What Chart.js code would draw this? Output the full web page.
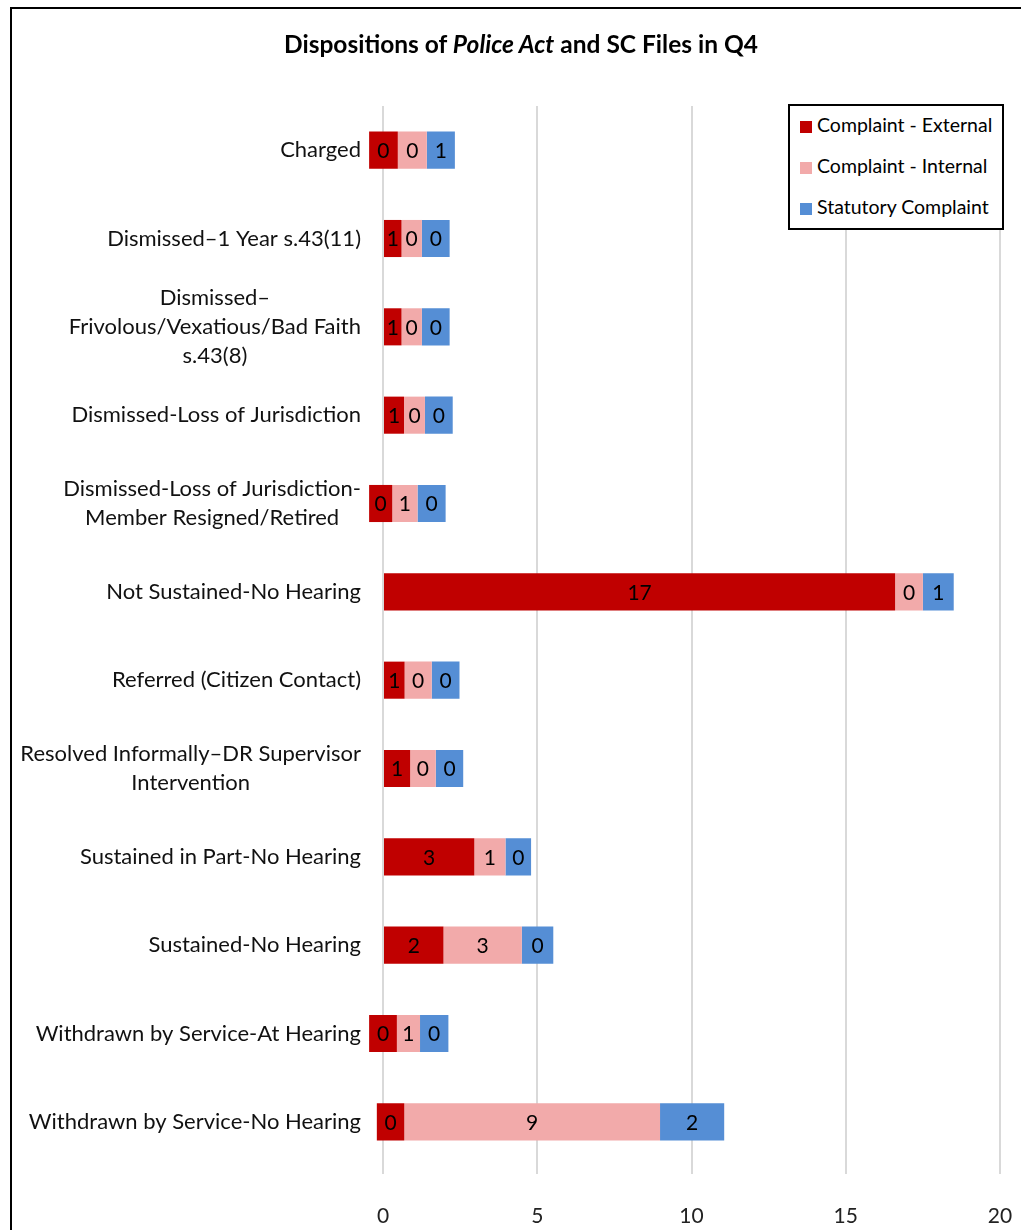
<!DOCTYPE html>
<html>
<head>
<meta charset="utf-8">
<script src="https://cdn.jsdelivr.net/npm/chart.js@4.4.0/dist/chart.umd.min.js"></script>
<style>
  html, body { margin: 0; padding: 0; background: #fff; width: 1021px; height: 1230px; overflow: hidden; }
  #frame { position: absolute; left: 10px; top: 7px; width: 1100px; height: 1300px; border-left: 2px solid #000; border-top: 2px solid #000; }
  #wrap { position: absolute; left: 0; top: 0; width: 1021px; height: 1230px; }
  #title { position: absolute; left: 0; top: 29px; width: 1042px; text-align: center; font-family: Lato, "Open Sans", sans-serif; font-weight: bold; font-size: 24.5px; color: #000; }
  #legend { position: absolute; left: 788px; top: 104px; width: 212px; height: 122px; border: 2px solid #000; background: #fff; font-family: Lato, "Open Sans", sans-serif; font-size: 19.5px; color: #000; }
  .item { position: absolute; left: 10px; height: 20px; line-height: 20px; white-space: nowrap; }
  .sw { display: inline-block; width: 12px; height: 12px; margin-right: 5px; vertical-align: -1px; }
</style>
</head>
<body>
<div id="frame"></div>
<div id="wrap"><canvas id="c" width="1021" height="1230"></canvas></div>
<div id="title">Dispositions of <i>Police Act</i> and SC Files in Q4</div>
<div id="legend"></div>
<script>
const categories = [
  "Charged",
  "Dismissed–1 Year s.43(11)",
  ["Dismissed–", "Frivolous/Vexatious/Bad Faith", "s.43(8)"],
  "Dismissed-Loss of Jurisdiction",
  ["Dismissed-Loss of Jurisdiction-", "Member Resigned/Retired"],
  "Not Sustained-No Hearing",
  "Referred (Citizen Contact)",
  ["Resolved Informally–DR Supervisor", "Intervention"],
  "Sustained in Part-No Hearing",
  "Sustained-No Hearing",
  "Withdrawn by Service-At Hearing",
  "Withdrawn by Service-No Hearing"
];
const seriesNames = ["Complaint - External", "Complaint - Internal", "Statutory Complaint"];
// drawn bar start and segment lengths (as they appear in the picture)
const barStart     = [-0.45, 0, 0, 0, -0.45, 0, 0, 0, 0, 0, -0.45, -0.2];
const externalLen  = [0.93, 0.6, 0.6, 0.68, 0.75, 16.6, 0.7, 0.88, 2.96, 1.96, 0.9, 0.89];
const internalLen  = [0.94, 0.66, 0.66, 0.68, 0.82, 0.9, 0.88, 0.83, 1.01, 2.54, 0.75, 8.29];
const statutoryLen = [0.91, 0.9, 0.9, 0.9, 0.91, 1.0, 0.9, 0.89, 0.83, 1.02, 0.92, 2.08];
// data labels shown on the segments
const externalLabels  = [0, 1, 1, 1, 0, 17, 1, 1, 3, 2, 0, 0];
const internalLabels  = [0, 0, 0, 0, 1, 0, 0, 0, 1, 3, 1, 9];
const statutoryLabels = [1, 0, 0, 0, 0, 1, 0, 0, 0, 0, 0, 2];
const xTicks = [0, 5, 10, 15, 20];

const colors = ["#C00000", "#F2AAAA", "#558ED5"];
const FONT = "Lato, 'Open Sans', sans-serif";

function ranges(starts, lens) { return starts.map((s, i) => [s, s + lens[i]]); }
const extEnd = barStart.map((s, i) => s + externalLen[i]);
const intEnd = extEnd.map((s, i) => s + internalLen[i]);
const lens = [externalLen, internalLen, statutoryLen];
const starts = [barStart, extEnd, intEnd];
const labelSets = [externalLabels, internalLabels, statutoryLabels];

const datasets = seriesNames.map((name, k) => ({
  label: name,
  data: ranges(starts[k], lens[k]),
  backgroundColor: colors[k],
  borderWidth: 0,
  grouped: false,
  clip: false,
  categoryPercentage: 1,
  barPercentage: 0.42,
  valueLabels: labelSets[k]
}));

const valueLabelPlugin = {
  id: 'valueLabels',
  afterDatasetsDraw(chart) {
    const ctx = chart.ctx;
    ctx.save();
    ctx.font = "21px " + FONT;
    ctx.fillStyle = "#000";
    ctx.textAlign = "center";
    ctx.textBaseline = "middle";
    chart.data.datasets.forEach((ds, k) => {
      const meta = chart.getDatasetMeta(k);
      meta.data.forEach((bar, i) => {
        const cx = (bar.x + bar.base) / 2;
        ctx.fillText(String(ds.valueLabels[i]), cx, bar.y + 1);
      });
    });
    ctx.restore();
  }
};

const catLabelPlugin = {
  id: 'catLabels',
  afterDraw(chart) {
    const ctx = chart.ctx;
    const ys = chart.scales.y;
    const right = 361, lh = 29;
    ctx.save();
    ctx.font = "22px " + FONT;
    ctx.fillStyle = "#111";
    ctx.textAlign = "center";
    ctx.textBaseline = "middle";
    categories.forEach((lab, i) => {
      const lines = Array.isArray(lab) ? lab : [lab];
      const maxW = Math.max(...lines.map(l => ctx.measureText(l).width));
      const cx = right - maxW / 2;
      const y0 = ys.getPixelForValue(i) - (lines.length - 1) * lh / 2;
      lines.forEach((l, j) => ctx.fillText(l, cx, y0 + j * lh));
    });
    ctx.restore();
  }
};

new Chart(document.getElementById('c'), {
  type: 'bar',
  data: { labels: categories, datasets },
  options: {
    indexAxis: 'y',
    responsive: false,
    animation: false,
    layout: { padding: { left: 0, right: 21, top: 106, bottom: 0 } },
    plugins: { legend: { display: false }, title: { display: false }, tooltip: { enabled: false } },
    scales: {
      x: {
        min: 0, max: 20,
        afterBuildTicks(scale) { scale.ticks = xTicks.map(v => ({ value: v })); },
        grid: { color: "#D9D9D9", lineWidth: 2, drawTicks: true, tickLength: 8, tickColor: "#D9D9D9" },
        border: { display: false },
        ticks: { font: { family: FONT, size: 21 }, color: "#222", padding: 30 },
        afterFit(scale) { scale.height = 64; scale.paddingLeft = 0; scale.paddingRight = 0; }
      },
      y: {
        grid: { display: false },
        border: { display: false },
        ticks: { display: false },
        afterFit(scale) { scale.width = 383; }
      }
    }
  },
  plugins: [valueLabelPlugin, catLabelPlugin]
});

const leg = document.getElementById('legend');
seriesNames.forEach((n, k) => {
  const d = document.createElement('div');
  d.className = 'item';
  d.style.top = (9 + k * 41) + 'px';
  d.innerHTML = '<span class="sw" style="background:' + colors[k] + '"></span>';
  d.appendChild(document.createTextNode(n));
  leg.appendChild(d);
});
</script>
</body>
</html>
